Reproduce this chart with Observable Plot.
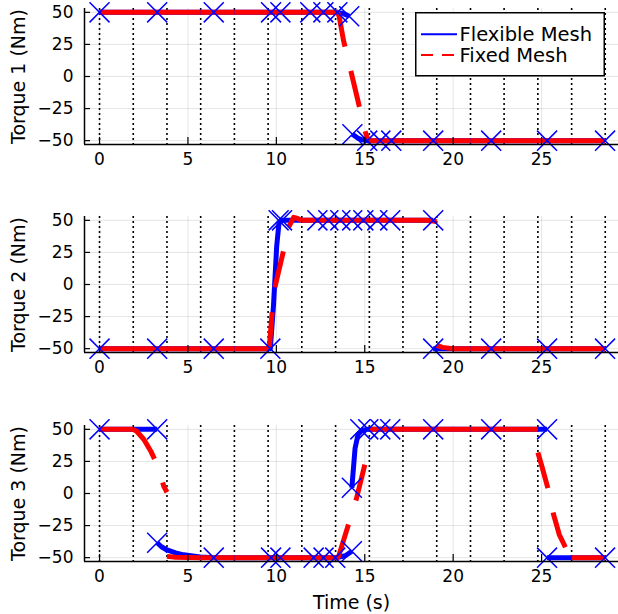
<!DOCTYPE html>
<html><head><meta charset="utf-8">
<script src="https://cdn.jsdelivr.net/npm/d3@7"></script>
<script src="https://cdn.jsdelivr.net/npm/@observablehq/plot@0.6"></script>
<style>
body{margin:0;background:#fff;font-family:"DejaVu Sans";}
#wrap{position:relative;width:618px;height:614px;overflow:hidden;}
#wrap > svg{display:block;}
#legend{position:absolute;left:415px;top:12px;}
</style></head><body><div id="wrap"></div>
<script>
// Fixed-mesh knot times (dotted verticals)
const meshKnots = [0, 1.907, 3.814, 5.72, 7.627, 9.534, 11.44, 13.35, 15.26, 17.16, 19.07, 20.98, 22.88, 24.79, 26.70, 28.60];
const xTicks = [0, 5, 10, 15, 20, 25];
const yTicks = [-50, -25, 0, 25, 50];
const xDomain = [-0.85, 29.35];
const yDomain = [-53, 53];
const yLabels = ["Torque 1 (Nm)", "Torque 2 (Nm)", "Torque 3 (Nm)"];
const xLabel = "Time (s)";
const seriesNames = ["Flexible Mesh", "Fixed Mesh"];

// Fixed mesh (red dashed): one entry per mesh interval; number = flat value, otherwise [t, v] points
const fixed1 = [50, 50, 50, 50, 50, 50, 50,
  [[13.35, 50], [13.45, 50], [13.55, 47], [13.8, 28], [14.2, 5], [14.6, -18], [15.0, -42], [15.15, -48], [15.26, -50]],
  -50, -50, -50, -50, -50, -50, -50];
const fixed2 = [-50, -50, -50, -50, -50,
  [[9.534, -50], [9.6, -49], [9.76, -22], [9.94, -1], [10.41, 26.6], [10.7, 44.8], [10.98, 52.3], [11.2, 51.5], [11.44, 50]],
  50, 50, 50,
  [[17.16, 50], [18.5, 50], [19.07, 49]],
  [[19.07, -47.5], [19.4, -49], [20.0, -50], [20.98, -50]],
  -50, -50, -50, -50];
const fixed3 = [50,
  [[1.907, 50], [2.1, 48.5], [2.5, 42.3], [2.9, 33], [3.16, 25.4], [3.4, 16], [3.63, 5.8], [3.814, 1]],
  [[3.814, -49], [4.3, -49.7], [5.72, -50]],
  -50, -50, -50, -50,
  [[13.35, -50], [13.45, -50], [13.52, -49], [14.08, -24], [14.52, -4.5], [15.03, 24], [15.26, 37]],
  50, 50, 50, 50, 50,
  [[24.79, 32], [25.0, 22], [25.38, 3], [25.67, -16], [26.0, -32], [26.42, -44], [26.70, -49]],
  -50];

// Flexible mesh (blue solid): list of continuous pieces
const flex1 = [
  [[0, 50], [13.45, 50], [13.8, 49], [14.12, 47]],
  [[14.3, -45], [14.6, -48], [14.9, -49.5], [15.14, -50], [28.59, -50]]
];
const flex2 = [
  [[0, -50], [9.66, -50], [9.84, -16], [10.02, 30], [10.15, 48], [10.3, 50], [18.87, 50]],
  [[18.87, -50], [28.59, -50]]
];
const flex3 = [
  [[0, 50], [3.26, 50]],
  [[3.26, -38.4], [3.5, -41.5], [3.82, -44], [4.3, -46.3], [4.76, -47.8], [5.7, -49.4], [6.46, -50], [13.4, -50], [13.9, -48.5], [14.27, -45]],
  [[14.27, 4.5], [14.45, 35], [14.62, 46], [14.85, 49.3], [15.15, 50], [25.31, 50]],
  [[25.31, -50], [28.59, -50]]
];

// Flexible-mesh knots (blue crosses)
const knots1 = [[0, 50], [3.26, 50], [6.46, 50], [9.70, 50], [10.23, 50], [11.92, 50], [12.66, 50], [13.45, 50], [14.12, 47],
  [14.3, -45], [15.14, -50], [15.88, -50], [16.5, -50], [18.87, -50], [22.15, -50], [25.31, -50], [28.59, -50]];
const knots2 = [[0, -50], [3.26, -50], [6.46, -50], [9.66, -50], [10.13, 50], [10.32, 50], [12.32, 50], [12.94, 50], [13.62, 50],
  [14.29, 50], [14.92, 50], [15.71, 50], [16.44, 50], [18.87, 50], [18.87, -50], [22.15, -50], [25.31, -50], [28.59, -50]];
const knots3 = [[0, 50], [3.26, 50], [3.26, -38.4], [6.46, -50], [9.70, -50], [10.23, -50], [12.11, -50], [12.67, -50], [13.33, -50],
  [14.27, -45], [14.27, 4.5], [14.75, 50], [15.2, 50], [15.88, 50], [16.44, 50], [18.87, 50], [22.15, 50], [25.31, 50], [25.31, -50], [28.59, -50]];

const W = 618, ML = 84, PH = 136;

function panel(i, flex, fixed, knots, height, top, bottomLabel) {
  const flexRows = flex.flatMap((seg, s) => seg.map(([t, v]) => ({t, v, s})));
  const fixedRows = fixed.flatMap((iv, k) =>
    (typeof iv === "number" ? [[meshKnots[k], iv], [meshKnots[k + 1], iv]] : iv).map(([t, v]) => ({t, v, k})));
  const knotRows = knots.map(([t, v]) => ({t, v}));
  const marks = [
    Plot.gridX({ticks: xTicks, stroke: "black", strokeOpacity: 0.1, strokeWidth: 1}),
    Plot.gridY({ticks: yTicks, stroke: "black", strokeOpacity: 0.1, strokeWidth: 1}),
    Plot.ruleX(meshKnots, {x: d => d, stroke: "black", strokeWidth: 1.6, strokeDasharray: "2,3"}),
    Plot.line(flexRows, {x: "t", y: "v", z: "s", stroke: "blue", strokeWidth: 5, strokeLinecap: "butt", strokeLinejoin: "round"}),
    Plot.line(fixedRows, {x: "t", y: "v", z: "k", stroke: "red", strokeWidth: 5, strokeDasharray: "37,25", strokeLinecap: "butt", strokeLinejoin: "round"}),
    Plot.dot(knotRows, {x: "t", y: "v", symbol: "times", r: 9.15, stroke: "blue", fill: "none", strokeWidth: 1.5}),
    Plot.ruleX([xDomain[0]], {x: d => d, stroke: "black", strokeWidth: 1.5}),
    Plot.ruleY([yDomain[0]], {y: d => d, stroke: "black", strokeWidth: 1.5}),
    Plot.tickX(xTicks, {x: d => d, stroke: "black", strokeWidth: 1.2, insetTop: PH - 7}),
    Plot.tickY(yTicks, {y: d => d, stroke: "black", strokeWidth: 1.2, insetRight: (W - ML) - 6}),
    Plot.axisX({ticks: xTicks, tickSize: 0, tickPadding: 8, label: null}),
    Plot.axisY({ticks: yTicks, tickSize: 0, tickPadding: 11, label: null}),
    Plot.text([yLabels[i]], {text: d => d, frameAnchor: "left", textAnchor: "middle", lineAnchor: "middle", rotate: -90, dx: -66, fontSize: 19, fill: "black"})
  ];
  if (bottomLabel) marks.push(Plot.text([bottomLabel], {text: d => d, frameAnchor: "bottom", textAnchor: "middle", dy: 41, lineAnchor: "middle", fontSize: 19, fill: "black"}));
  return Plot.plot({
    width: W, height, marginLeft: ML, marginRight: 0, marginTop: top, marginBottom: height - top - PH,
    x: {domain: xDomain}, y: {domain: yDomain},
    style: {fontFamily: "DejaVu Sans", fontSize: "17px", color: "black", background: "white"},
    marks
  });
}

const wrap = document.getElementById("wrap");
wrap.append(panel(0, flex1, fixed1, knots1, 209, 8, null));
wrap.append(panel(1, flex2, fixed2, knots2, 209, 7, null));
wrap.append(panel(2, flex3, fixed3, knots3, 196, 7, xLabel));

// Legend
const lg = document.createElement("div");
lg.id = "legend";
lg.innerHTML = `<svg width="190" height="65" xmlns="http://www.w3.org/2000/svg" style="font-family:'DejaVu Sans';font-size:19.5px">
<rect x="0.75" y="0.75" width="188.5" height="63" fill="white" stroke="black" stroke-width="1.5"/>
<line x1="6" x2="42" y1="22.3" y2="22.3" stroke="blue" stroke-width="2"/>
<text x="44.5" y="29" fill="black">${seriesNames[0]}</text>
<line x1="6" x2="42" y1="43" y2="43" stroke="red" stroke-width="2" stroke-dasharray="12,9"/>
<text x="44.5" y="50.3" fill="black">${seriesNames[1]}</text>
</svg>`;
wrap.append(lg);
</script>
</body></html>
